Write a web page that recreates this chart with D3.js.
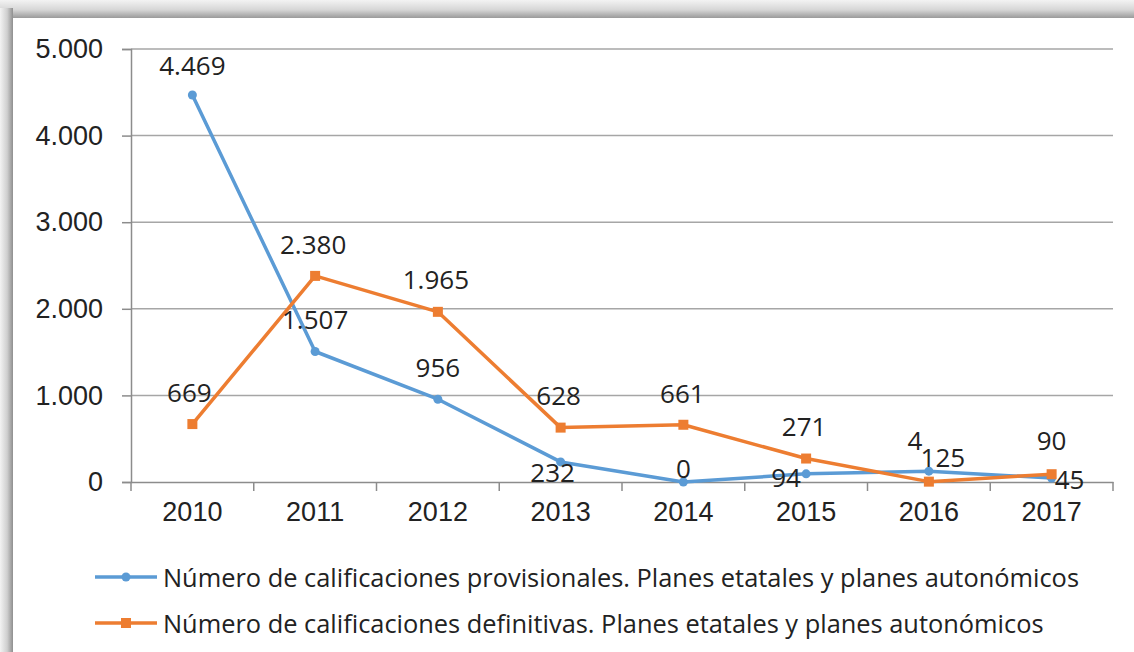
<!DOCTYPE html>
<html>
<head>
<meta charset="utf-8">
<script src="https://cdn.jsdelivr.net/npm/d3@7/dist/d3.min.js"></script>
<style>
  body { margin: 0; background: #fff; }
  svg { display: block; font-family: "Open Sans", "Noto Sans", sans-serif; }
</style>
</head>
<body>
<svg id="canvas" width="1134" height="652"></svg>
<script>
var years = ['2010', '2011', '2012', '2013', '2014', '2015', '2016', '2017']
var provisionales = [4469, 1507, 956, 232, 0, 94, 125, 45]
var definitivas = [669, 2380, 1965, 628, 661, 271, 4, 90]
var yTicks = [0, 1000, 2000, 3000, 4000, 5000]
var seriesNames = [
  'Número de calificaciones provisionales. Planes etatales y planes autonómicos',
  'Número de calificaciones definitivas. Planes etatales y planes autonómicos'
]

var width = 1134, height = 652
var margin = {left: 131, right: 21, top: 49, bottom: 170}
var blue = '#5b9bd5', orange = '#ed7d31'
var fmt = d3.format(',')
function label(v) { return fmt(v).replace(/,/g, '.') }

// label nudges (dx, dy from the point), Excel placed them by hand
var blueOff = [[0, -30], [0, -32], [0, -32], [-8, 10], [0, -14], [-20, 3], [14, -14], [18, 1]]
var orangeOff = [[-3, -32], [-2, -32], [-2, -33], [-2, -33], [-1, -32], [-2, -33], [-14, -42], [0, -34]]

var svg = d3.select('#canvas')

// frame with shadow
var defs = svg.append('defs')
var gTop = defs.append('linearGradient').attr('id', 'shTop').attr('x1', 0).attr('y1', 0).attr('x2', 0).attr('y2', 1)
gTop.append('stop').attr('offset', '0%').attr('stop-color', '#f3f3f3')
gTop.append('stop').attr('offset', '55%').attr('stop-color', '#d6d6d6')
gTop.append('stop').attr('offset', '100%').attr('stop-color', '#9a9a9a')
var gLeft = defs.append('linearGradient').attr('id', 'shLeft').attr('x1', 0).attr('y1', 0).attr('x2', 1).attr('y2', 0)
gLeft.append('stop').attr('offset', '0%').attr('stop-color', '#f3f3f3')
gLeft.append('stop').attr('offset', '55%').attr('stop-color', '#cfcfcf')
gLeft.append('stop').attr('offset', '100%').attr('stop-color', '#8f8f8f')

svg.append('rect').attr('width', width).attr('height', height).attr('fill', '#fff')
svg.append('rect').attr('x', 0).attr('y', 0).attr('width', width).attr('height', 18).attr('fill', 'url(#shTop)')
svg.append('rect').attr('x', 0).attr('y', 8).attr('width', 13).attr('height', height).attr('fill', 'url(#shLeft)')

var x = d3.scaleBand().domain(years).range([margin.left, width - margin.right])
var y = d3.scaleLinear().domain([0, 5000]).range([height - margin.bottom, margin.top])

// gridlines
svg.append('g').selectAll('line').data(yTicks.slice(1)).enter().append('line')
  .attr('x1', margin.left).attr('x2', width - margin.right)
  .attr('y1', function(d) { return y(d) }).attr('y2', function(d) { return y(d) })
  .attr('stroke', '#a6a6a6').attr('stroke-width', 1.5)

// y axis
var yAxis = svg.append('g').attr('transform', 'translate(' + margin.left + ',0)')
  .call(d3.axisLeft(y).tickValues(yTicks).tickFormat(label).tickSize(9).tickPadding(19))
yAxis.selectAll('path,line').attr('stroke', '#8c8c8c').attr('stroke-width', 1.5)
yAxis.selectAll('text').attr('font-size', 27).attr('fill', '#222').attr('font-family', null)

// x axis
var xAxis = svg.append('g').attr('transform', 'translate(0,' + y(0) + ')')
  .call(d3.axisBottom(x).tickSize(0).tickPadding(20))
xAxis.select('path').attr('stroke', '#8c8c8c').attr('stroke-width', 1.5)
xAxis.selectAll('text').attr('font-size', 27).attr('fill', '#222').attr('font-family', null)
xAxis.selectAll('.sep').data(d3.range(years.length + 1)).enter().append('line')
  .attr('x1', function(i) { return margin.left + i * x.step() })
  .attr('x2', function(i) { return margin.left + i * x.step() })
  .attr('y1', 0).attr('y2', 9).attr('stroke', '#8c8c8c').attr('stroke-width', 1.5)

function cx(d, i) { return x(years[i]) + x.bandwidth() / 2 }
var line = d3.line().x(function(d, i) { return cx(d, i) }).y(function(d) { return y(d) })

function drawSeries(vals, color, shape) {
  var g = svg.append('g')
  g.append('path').datum(vals).attr('d', line)
    .attr('fill', 'none').attr('stroke', color).attr('stroke-width', 3.5).attr('stroke-linejoin', 'round')
  if (shape === 'circle') {
    g.selectAll('circle').data(vals).enter().append('circle')
      .attr('cx', cx).attr('cy', function(d) { return y(d) }).attr('r', 4.5).attr('fill', color)
  } else {
    g.selectAll('rect').data(vals).enter().append('rect')
      .attr('x', function(d, i) { return cx(d, i) - 5 }).attr('y', function(d) { return y(d) - 5 })
      .attr('width', 10).attr('height', 10).attr('fill', color)
  }
  return g
}

drawSeries(provisionales, blue, 'circle')
drawSeries(definitivas, orange, 'rect')

function drawLabels(vals, off) {
  svg.append('g').selectAll('text').data(vals).enter().append('text')
    .attr('x', function(d, i) { return cx(d, i) + off[i][0] })
    .attr('y', function(d, i) { return y(d) + off[i][1] })
    .attr('text-anchor', 'middle').attr('dominant-baseline', 'central')
    .attr('font-size', 26).attr('fill', '#222')
    .text(label)
}
drawLabels(provisionales, blueOff)
drawLabels(definitivas, orangeOff)

// legend
var legend = svg.append('g')
var legY = [577, 623]
var colors = [blue, orange]
seriesNames.forEach(function(name, i) {
  var row = legend.append('g').attr('transform', 'translate(0,' + legY[i] + ')')
  row.append('line').attr('x1', 95).attr('x2', 157).attr('y1', 0).attr('y2', 0)
    .attr('stroke', colors[i]).attr('stroke-width', 3.5)
  if (i === 0) row.append('circle').attr('cx', 126).attr('cy', 0).attr('r', 4.5).attr('fill', colors[i])
  else row.append('rect').attr('x', 121).attr('y', -5).attr('width', 10).attr('height', 10).attr('fill', colors[i])
  row.append('text').attr('x', 163).attr('y', 0).attr('dominant-baseline', 'central')
    .attr('font-size', 25.4).attr('fill', '#222').text(name)
})
</script>
</body>
</html>
